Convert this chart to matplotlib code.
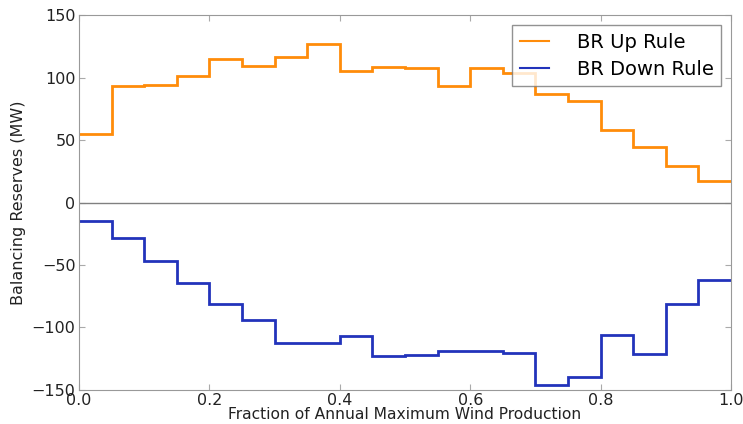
import matplotlib.pyplot as plt
import numpy as np

# wind production bins (fraction of annual max)
bin_edges = np.round(np.arange(0, 1.0001, 0.05), 2)

br_up = [54.5, 93, 94, 101, 115, 109, 116.5, 126.5, 105, 108.5,
         107.5, 93, 107.5, 103.5, 87, 81, 58, 44.5, 29, 17.5]
br_down = [-14.5, -28.5, -47, -64.5, -81.5, -94, -112.5, -112.5, -107, -123,
           -122, -119, -119, -120.5, -146, -139.5, -106, -121, -81, -62]

fig = plt.figure(figsize=(7.43, 4.24), dpi=100)
ax = fig.add_axes([0.1063, 0.0802, 0.8776, 0.8844])

ax.stairs(br_up, bin_edges, baseline=None, color='#ff8c0a', lw=2,
          label='BR Up Rule')
ax.stairs(br_down, bin_edges, baseline=None, color='#2233bb', lw=2,
          label='BR Down Rule')
ax.axhline(0, color='grey', lw=1)

ax.set_xlim(0, 1)
ax.set_ylim(-150, 150)
ax.set_xticks([0.0, 0.2, 0.4, 0.6, 0.8, 1.0])
ax.set_yticks([-150, -100, -50, 0, 50, 100, 150])
ax.tick_params(direction='in', colors='#222222', labelsize=11.5, length=4,
               top=True, right=True, color='#aaaaaa', pad=2.5)
for s in ax.spines.values():
    s.set_color('#999999')

ax.set_xlabel('Fraction of Annual Maximum Wind Production', fontsize=11.2,
              color='#222222', labelpad=-1)
ax.set_ylabel('Balancing Reserves (MW)', fontsize=11.5, color='#222222',
              labelpad=4)

leg = ax.legend(loc='upper right', fontsize=14, fancybox=False,
                handlelength=1.5, handletextpad=1.4, borderpad=0.4,
                labelspacing=0.4, borderaxespad=0,
                bbox_to_anchor=(0.985, 0.973))
leg.get_frame().set_edgecolor('#777777')
leg.get_frame().set_linewidth(1)
for line in leg.get_lines():
    line.set_linewidth(1.5)

fig.savefig('out.png', dpi=100)
